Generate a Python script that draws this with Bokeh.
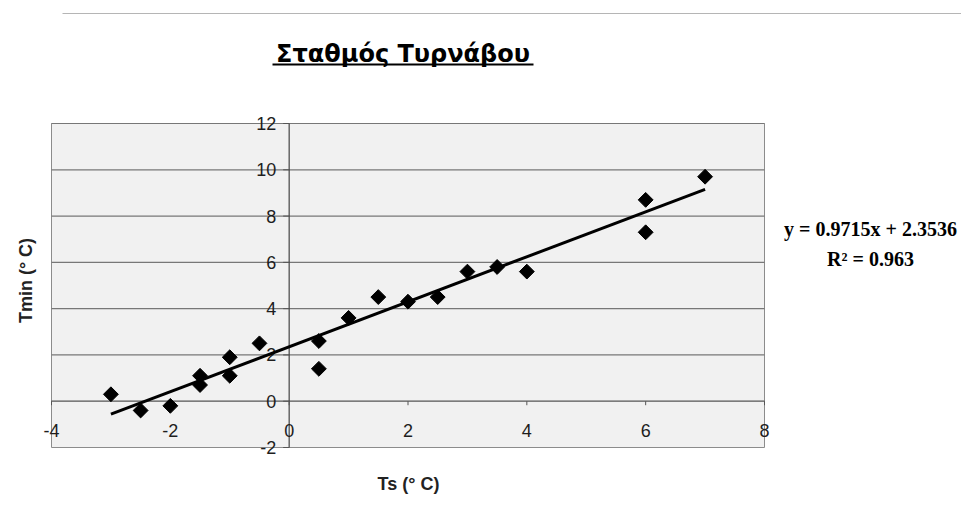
import numpy as np
from bokeh.plotting import figure
from bokeh.models import Range1d
from bokeh.core.properties import value
from bokeh.embed import file_html
from bokeh.resources import INLINE

# ---------------- data ----------------
title_text = "Σταθμός Τυρνάβου"
x_title = "Ts (° C)"
y_title = "Tmin (° C)"

ts = [-3, -2.5, -2, -1.5, -1.5, -1, -1, -0.5, 0.5, 0.5, 1, 1.5, 2, 2.5, 3, 3.5, 4, 6, 6, 7]
tmin = [0.3, -0.4, -0.2, 1.1, 0.7, 1.9, 1.1, 2.5, 2.6, 1.4, 3.6, 4.5, 4.3, 4.5, 5.6, 5.8, 5.6, 8.7, 7.3, 9.7]

slope = 0.9715
intercept = 2.3536
r2 = 0.963
eq_text = "y = 0.9715x + 2.3536"
r2_text = "R² = 0.963"

x_ticks = [-4, -2, 0, 2, 4, 6, 8]
y_ticks = [-2, 0, 2, 4, 6, 8, 10, 12]
x_min, x_max = -4, 8
y_min, y_max = -2, 12

# ---------------- geometry ----------------
W, H = 961, 498
LEFT, RIGHT, TOP, BOTTOM = 51, 764, 123, 447   # plot-area edges in picture pixels
SX = (RIGHT - LEFT) / (x_max - x_min)
SY = (BOTTOM - TOP) / (y_max - y_min)
X0 = x_min - LEFT / SX
Y1 = y_max + TOP / SY


def gx(px):
    return X0 + px / SX


def gy(py):
    return Y1 - py / SY


p = figure(width=W, height=H,
           x_range=Range1d(X0, X0 + W / SX), y_range=Range1d(Y1 - H / SY, Y1),
           x_axis_location=None, y_axis_location=None,
           toolbar_location=None, output_backend="svg",
           min_border=0, outline_line_color=None,
           background_fill_color="white", border_fill_color="white")
p.grid.visible = False

# faint scan line at top of page
p.segment(x0=[gx(62)], y0=[gy(13)], x1=[gx(961)], y1=[gy(13)],
          line_color="#b5b5b5", line_width=1)

# plot area
p.quad(left=[x_min], right=[x_max], bottom=[y_min], top=[y_max],
       fill_color="#f1f1f1", line_color="#8c8c8c", line_width=1)

# horizontal gridlines
grid_y = [v for v in y_ticks if v not in (y_min, 0)]
p.segment(x0=[x_min] * len(grid_y), y0=grid_y, x1=[x_max] * len(grid_y), y1=grid_y,
          line_color="#777777", line_width=1.2)

# axes crossing at zero
p.segment(x0=[x_min], y0=[0], x1=[x_max], y1=[0], line_color="#555555", line_width=1.2)
p.segment(x0=[0], y0=[y_min], x1=[0], y1=[y_max], line_color="#444444", line_width=1.2)

# tick marks
p.segment(x0=x_ticks, y0=[0] * len(x_ticks), x1=x_ticks, y1=[-4 / SY] * len(x_ticks),
          line_color="#555555", line_width=1)
p.segment(x0=[0] * len(y_ticks), y0=y_ticks, x1=[-6 / SX] * len(y_ticks), y1=y_ticks,
          line_color="#555555", line_width=1)

# tick labels
p.text(x=x_ticks, y=[0] * len(x_ticks), text=[str(v) for v in x_ticks],
       text_align="center", text_baseline="middle", y_offset=29,
       text_font=value("Liberation Sans"), text_font_size="18px", text_color="#1e1e1e")
p.text(x=[0] * len(y_ticks), y=y_ticks, text=[str(v) for v in y_ticks],
       text_align="right", text_baseline="middle", x_offset=-13,
       text_font=value("Liberation Sans"), text_font_size="18px", text_color="#1e1e1e")

# trend line
fit_x = np.array([min(ts), max(ts)])
fit_y = slope * fit_x + intercept
p.line(fit_x, fit_y, line_color="black", line_width=3)

# data points (diamonds)
p.scatter(ts, tmin, marker="square", size=10.5, angle=np.pi / 4,
          fill_color="black", line_color="black")

# title with underline
p.text(x=[gx(402.5)], y=[gy(53)], text=[title_text],
       text_align="center", text_baseline="middle",
       text_font=value("DejaVu Sans"), text_font_style="bold",
       text_font_size="24px", text_color="black")
p.segment(x0=[gx(272)], y0=[gy(64)], x1=[gx(533)], y1=[gy(64)],
          line_color="black", line_width=2)

# axis titles
p.text(x=[gx(408)], y=[gy(483)], text=[x_title],
       text_align="center", text_baseline="middle",
       text_font=value("Liberation Sans"), text_font_style="bold",
       text_font_size="18px", text_color="#222222")
p.text(x=[gx(25)], y=[gy(280)], text=[y_title], angle=np.pi / 2,
       text_align="center", text_baseline="middle",
       text_font=value("Liberation Sans"), text_font_style="bold",
       text_font_size="18px", text_color="#222222")

# regression equation
p.text(x=[gx(870), gx(870)], y=[gy(228), gy(258)], text=[eq_text, r2_text],
       text_align="center", text_baseline="middle",
       text_font=value("Liberation Serif"), text_font_style="bold",
       text_font_size="20px", text_color="black")

open("out.html", "w").write(file_html(p, INLINE))
